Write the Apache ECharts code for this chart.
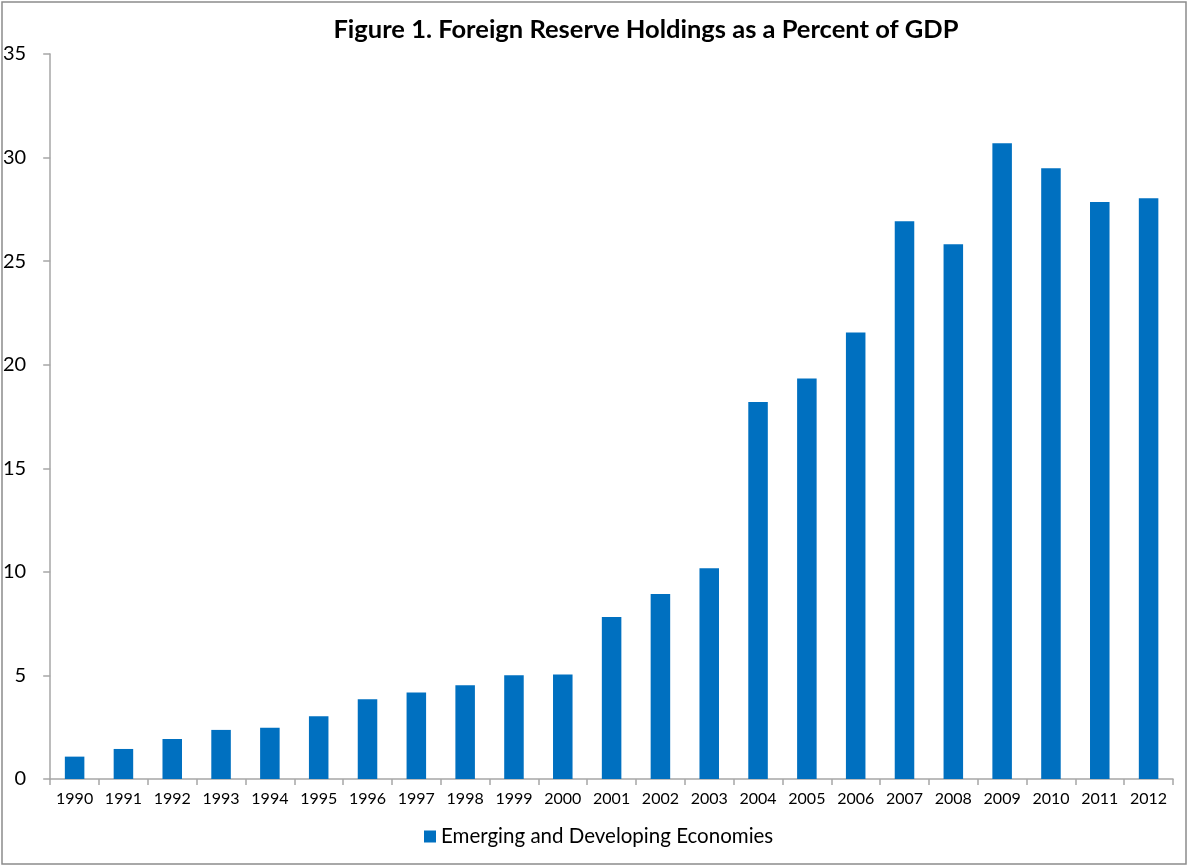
<!DOCTYPE html>
<html>
<head>
<meta charset="utf-8">
<title>Foreign Reserve Holdings as a Percent of GDP</title>
<script src="https://cdn.jsdelivr.net/npm/echarts@6/dist/echarts.min.js"></script>
<style>
  html, body { margin: 0; padding: 0; background: #fff; }
  #chart { width: 1189px; height: 867px; }
</style>
</head>
<body>
<div id="chart"></div>
<script>
// Years on the category axis
const years = ['1990','1991','1992','1993','1994','1995','1996','1997','1998','1999','2000',
               '2001','2002','2003','2004','2005','2006','2007','2008','2009','2010','2011','2012'];
// Foreign reserves, percent of GDP
const reservesPctGDP = [1.08, 1.45, 1.93, 2.37, 2.48, 3.03, 3.85, 4.17, 4.52, 5.01, 5.04,
                        7.82, 8.93, 10.17, 18.2, 19.33, 21.55, 26.93, 25.82, 30.69, 29.49, 27.86, 28.04];
const seriesName = 'Emerging and Developing Economies';
const titleText = 'Figure 1. Foreign Reserve Holdings as a Percent of GDP';

const chart = echarts.init(document.getElementById('chart'), null, { renderer: 'canvas' });
const axisGray = '#a6a6a6';
const font = 'Lato, "Open Sans", sans-serif';

chart.setOption({
  backgroundColor: '#ffffff',
  animation: false,
  title: {
    text: titleText,
    left: 641, top: 12,
    textAlign: 'center',
    textStyle: { fontFamily: font, fontWeight: 'bold', fontSize: 25.5, color: '#000' }
  },
  graphic: [{
    type: 'rect',
    shape: { x: 2, y: 2, width: 1184, height: 862 },
    style: { fill: 'none', stroke: '#8c8c8c', lineWidth: 1.5 },
    silent: true
  }],
  legend: {
    data: [seriesName],
    left: 419, top: 821,
    icon: 'rect', itemWidth: 12, itemHeight: 12, itemGap: 6,
    textStyle: { fontFamily: font, fontSize: 20.5, color: '#000' }
  },
  grid: { left: 49, right: 16, top: 54, bottom: 88, containLabel: false },
  xAxis: {
    type: 'category',
    data: years,
    axisLine: { lineStyle: { color: axisGray, width: 1.5 } },
    axisTick: { show: true, length: 6, lineStyle: { color: axisGray, width: 1.5 } },
    axisLabel: { fontFamily: font, fontSize: 16, color: '#000', margin: 12, interval: 0 }
  },
  yAxis: {
    type: 'value',
    min: 0, max: 35, interval: 5,
    splitLine: { show: false },
    axisLine: { show: true, lineStyle: { color: axisGray, width: 1.5 } },
    axisTick: { show: true, length: 7, lineStyle: { color: axisGray, width: 1.5 } },
    axisLabel: { fontFamily: font, fontSize: 20, color: '#000', margin: 24 }
  },
  series: [{
    name: seriesName,
    type: 'bar',
    data: reservesPctGDP,
    barWidth: '40%',
    itemStyle: { color: '#0070c0' }
  }]
});
</script>
</body>
</html>
